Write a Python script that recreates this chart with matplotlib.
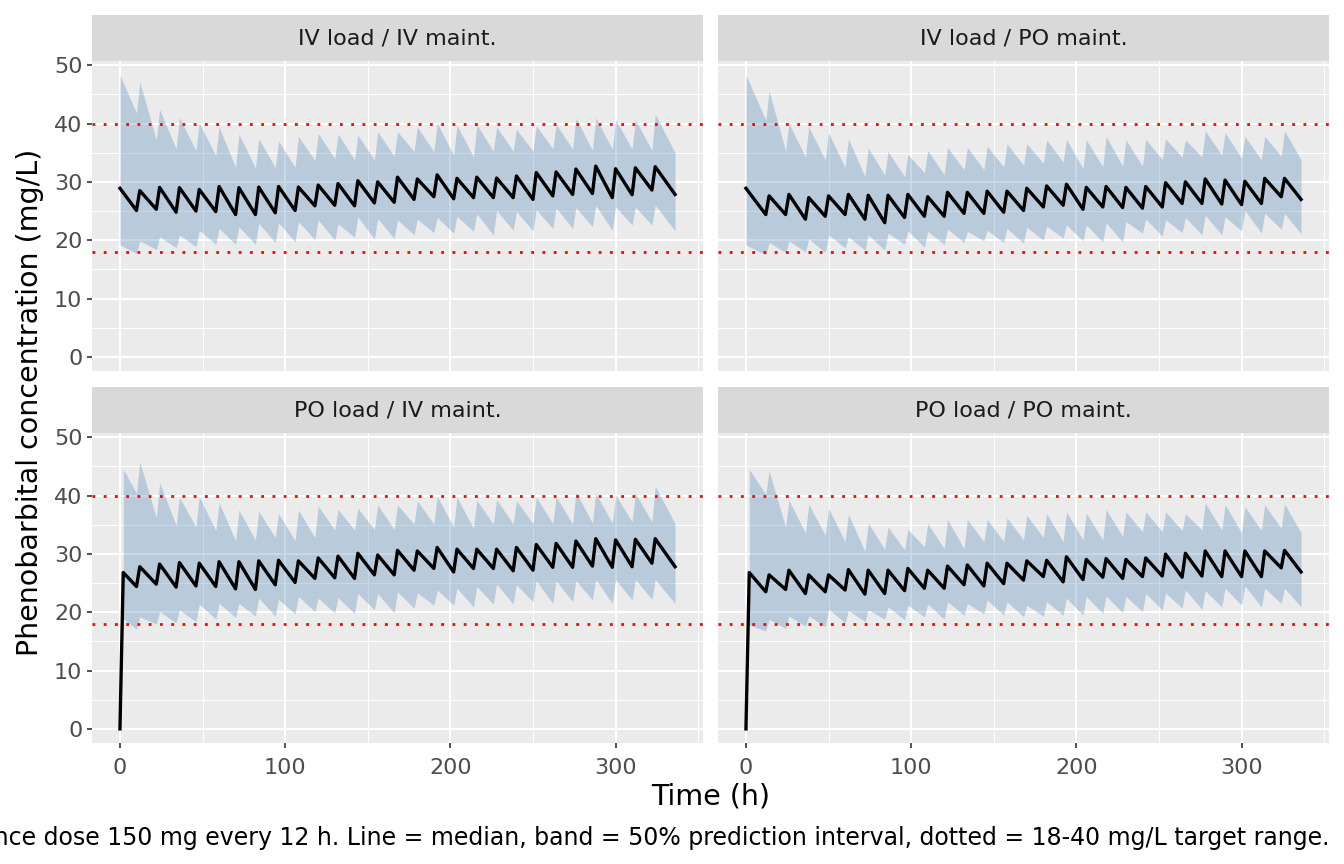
import numpy as np
import matplotlib
matplotlib.use("Agg")
import matplotlib.pyplot as plt

# ---------------- data (mg/L) ----------------
panels = ["IV load / IV maint.", "IV load / PO maint.", "PO load / IV maint.", "PO load / PO maint."]
target_low, target_high = 18, 40
x_ticks = [0, 100, 200, 300]
y_ticks = [0, 10, 20, 30, 40, 50]

# IV load / IV maint.: value right after each dose (peak) and the last sample before next dose (trough)
ivv_med_peak = [28.9, 28.5, 29.05, 29.0, 28.7, 29.2, 29.0, 29.1, 29.2, 29.1, 29.45, 29.7, 30.2, 30.0,
                30.8, 30.5, 31.2, 30.6, 30.8, 30.65, 31.0, 31.6, 31.7, 32.2, 32.7, 32.25, 32.4, 32.6]
ivv_med_trough = [25.1, 25.3, 24.8, 25.0, 24.9, 24.4, 24.4, 24.7, 25.1, 25.9, 26.0, 25.9, 26.4, 26.5,
                  27.0, 27.45, 27.1, 27.3, 27.3, 27.3, 27.0, 27.6, 27.85, 28.0, 27.3, 27.8, 28.6, 27.85]
ivv_hi_peak = [48.3, 47.1, 42.4, 41.0, 40.1, 39.4, 38.2, 37.4, 37.0, 37.8, 38.3, 38.2, 38.0, 38.6,
               38.6, 39.4, 40.1, 39.7, 39.8, 39.4, 39.0, 39.6, 39.9, 40.9, 41.0, 40.7, 40.6, 41.6]
ivv_hi_trough = [41.8, 37.2, 35.7, 35.4, 34.5, 32.5, 32.4, 32.5, 32.5, 33.7, 34.0, 33.8, 33.8, 34.4,
                 35.2, 35.2, 34.6, 34.3, 35.3, 35.3, 35.3, 35.7, 35.6, 35.4, 35.6, 35.6, 35.4, 35.0]
ivv_lo_peak = [19.2, 19.9, 20.6, 20.9, 21.7, 22.0, 22.3, 22.9, 23.0, 23.2, 23.5, 22.8, 24.0, 23.7,
               23.5, 23.6, 23.9, 24.1, 24.5, 25.1, 24.9, 25.2, 25.5, 25.6, 26.0, 25.7, 25.7, 26.0]
ivv_lo_trough = [17.75, 18.4, 18.7, 18.9, 19.3, 19.3, 19.3, 19.6, 19.7, 20.1, 20.0, 20.5, 20.2, 20.3,
                 20.9, 21.3, 21.2, 21.5, 20.9, 21.7, 21.6, 22.0, 22.0, 22.3, 21.7, 22.6, 22.6, 21.6]

# IV load / PO maint.: start value, trough at each oral dose, peak 2 h later, final value
ivp_start = {"med": 28.9, "hi": 48.3, "lo": 19.2}
ivp_end = {"med": 27.0, "hi": 33.8, "lo": 21.1}
ivp_med_trough = [24.4, 24.4, 23.6, 24.1, 24.4, 23.6, 23.0, 23.9, 24.1, 24.1, 24.6, 24.6, 24.8, 25.1,
                  25.7, 26.0, 25.3, 25.7, 25.6, 25.5, 25.7, 26.3, 26.3, 26.2, 26.1, 26.3, 27.45]
ivp_med_peak = [27.6, 27.85, 27.3, 27.6, 27.85, 27.7, 27.7, 27.85, 27.45, 28.2, 28.2, 28.4, 28.4, 28.9,
                29.3, 29.6, 29.05, 29.2, 29.05, 29.2, 29.85, 30.0, 30.5, 30.3, 30.1, 30.6, 30.6]
ivp_hi_trough = [40.6, 35.3, 34.3, 33.8, 32.5, 30.9, 31.2, 30.9, 31.6, 31.2, 32.1, 32.1, 32.6, 32.9,
                 33.2, 33.4, 32.3, 32.6, 32.7, 32.7, 33.8, 34.2, 34.3, 34.6, 34.1, 33.8, 34.4]
ivp_hi_peak = [45.6, 40.0, 39.4, 38.4, 37.4, 35.8, 35.2, 34.7, 35.4, 35.9, 35.9, 36.1, 36.5, 36.5,
               37.2, 37.3, 37.2, 37.8, 37.2, 37.3, 37.4, 37.2, 38.75, 38.4, 37.8, 37.8, 38.75]
ivp_lo_trough = [17.5, 17.9, 18.0, 17.9, 18.7, 18.3, 18.3, 19.3, 18.8, 19.3, 19.6, 19.9, 19.6, 19.5,
                 20.0, 20.4, 19.9, 19.7, 19.7, 21.2, 20.7, 21.3, 20.9, 20.9, 21.6, 21.2, 21.9]
ivp_lo_peak = [19.6, 19.9, 20.2, 20.9, 20.6, 20.9, 21.2, 21.6, 21.5, 21.9, 21.5, 21.7, 22.0, 22.2,
               22.4, 22.6, 22.6, 23.0, 23.2, 23.6, 23.5, 23.9, 24.3, 24.0, 25.1, 24.6, 24.6]

# PO load / IV maint.
poi_med_peak = [26.8, 27.8, 28.25, 28.5, 28.4, 28.65, 28.65, 28.8, 28.9, 28.8, 29.3, 29.6, 30.1, 29.8,
                30.6, 30.5, 31.1, 30.8, 30.8, 30.8, 31.1, 31.6, 31.8, 32.2, 32.6, 32.4, 32.5, 32.6]
poi_med_trough = [24.4, 24.8, 24.3, 24.5, 24.4, 24.0, 23.9, 24.7, 25.1, 25.8, 25.9, 25.8, 26.4, 26.4,
                  27.2, 27.5, 26.9, 27.5, 27.5, 27.1, 27.2, 27.7, 27.7, 27.9, 27.7, 27.8, 28.4, 27.8]
poi_hi_peak = [44.5, 45.8, 42.2, 39.7, 39.8, 38.75, 37.5, 37.3, 36.9, 37.5, 38.2, 37.6, 37.8, 38.4,
               38.4, 39.1, 39.9, 39.7, 39.2, 39.3, 39.1, 39.7, 39.8, 40.6, 40.4, 40.1, 40.4, 41.6]
poi_hi_trough = [40.4, 36.2, 34.9, 34.6, 34.0, 32.25, 32.4, 32.8, 32.25, 32.8, 34.1, 34.1, 34.2, 34.2,
                 35.1, 35.1, 34.6, 34.4, 35.1, 35.1, 35.2, 35.2, 35.1, 35.3, 35.3, 35.5, 35.5, 35.2]
poi_lo_peak = [18.9, 19.2, 20.1, 20.4, 21.4, 21.5, 21.5, 22.4, 22.2, 22.7, 22.4, 22.5, 23.2, 23.2,
               23.5, 23.3, 23.8, 24.1, 24.4, 24.8, 24.7, 25.4, 25.4, 25.4, 25.6, 25.6, 25.6, 25.6]
poi_lo_trough = [17.1, 18.0, 18.2, 18.4, 18.8, 19.1, 19.35, 19.35, 19.7, 20.1, 19.9, 19.8, 20.4, 19.9,
                 20.7, 21.2, 21.2, 20.9, 21.4, 21.4, 21.8, 21.5, 21.8, 22.1, 21.5, 22.1, 22.2, 21.5]

# PO load / PO maint.
pop_start = {"med": 26.8, "hi": 44.5, "lo": 17.8}
pop_end = {"med": 26.9, "hi": 33.6, "lo": 20.9}
pop_med_trough = [23.5, 23.9, 23.2, 23.5, 23.8, 23.1, 23.2, 23.7, 24.1, 24.1, 24.7, 24.5, 24.9, 25.5,
                  26.1, 25.2, 25.6, 26.0, 25.8, 26.1, 26.2, 26.0, 26.2, 26.1, 26.1, 26.1, 27.6]
pop_med_peak = [26.4, 27.2, 26.4, 26.4, 27.3, 27.2, 27.2, 27.5, 27.2, 27.9, 28.1, 28.4, 28.4, 28.8,
                28.9, 29.5, 29.05, 29.2, 29.05, 29.3, 29.95, 30.1, 30.5, 30.5, 30.5, 30.5, 30.6]
pop_hi_trough = [40.2, 34.6, 33.6, 33.2, 32.1, 30.4, 30.8, 30.7, 31.2, 30.9, 30.9, 32.1, 32.1, 32.4,
                 32.8, 32.1, 32.4, 32.4, 33.0, 33.8, 33.8, 34.0, 34.1, 34.1, 33.6, 34.0, 34.4]
pop_hi_peak = [44.2, 39.2, 38.5, 37.8, 36.8, 35.3, 34.6, 34.2, 35.2, 35.9, 35.9, 35.9, 36.2, 36.6,
               36.9, 37.2, 37.0, 37.6, 37.2, 37.2, 37.2, 36.9, 38.75, 38.5, 38.1, 38.4, 38.6]
pop_lo_trough = [16.8, 17.2, 17.6, 17.5, 18.2, 18.4, 18.8, 18.7, 19.2, 18.8, 19.5, 19.7, 19.5, 19.2,
                 19.3, 19.5, 19.5, 19.8, 19.9, 20.1, 20.4, 20.7, 20.5, 20.9, 21.2, 20.9, 21.5]
pop_lo_peak = [18.8, 19.35, 19.35, 20.5, 20.3, 20.4, 20.9, 21.2, 21.4, 21.8, 21.5, 22.1, 21.8, 21.2,
               21.8, 22.4, 22.7, 22.8, 22.7, 23.2, 23.3, 23.8, 23.7, 24.1, 24.5, 24.1, 24.1]

TAU = 12      # dosing interval (h)
T_END = 336   # end of simulation (h)


def iv_maint_series(first_t, peaks, troughs):
    t, v = [], []
    n = len(peaks)
    for k in range(n):
        t.append(first_t if k == 0 else TAU * k)
        v.append(peaks[k])
        t.append(TAU * k + 10 if k < n - 1 else T_END)
        v.append(troughs[k])
    return np.array(t, float), np.array(v, float)


def po_maint_series(first_t, start, troughs, peaks, end):
    t, v = [first_t], [start]
    for k in range(1, len(troughs) + 1):
        t += [TAU * k, TAU * k + 2]
        v += [troughs[k - 1], peaks[k - 1]]
    t.append(T_END)
    v.append(end)
    return np.array(t, float), np.array(v, float)


series = []
t1, m1 = iv_maint_series(0, ivv_med_peak, ivv_med_trough)
_, h1 = iv_maint_series(0, ivv_hi_peak, ivv_hi_trough)
_, l1 = iv_maint_series(0, ivv_lo_peak, ivv_lo_trough)
series.append((t1, m1, t1, l1, h1))
t2, m2 = po_maint_series(0, ivp_start["med"], ivp_med_trough, ivp_med_peak, ivp_end["med"])
_, h2 = po_maint_series(0, ivp_start["hi"], ivp_hi_trough, ivp_hi_peak, ivp_end["hi"])
_, l2 = po_maint_series(0, ivp_start["lo"], ivp_lo_trough, ivp_lo_peak, ivp_end["lo"])
series.append((t2, m2, t2, l2, h2))
t3, m3 = iv_maint_series(2, poi_med_peak, poi_med_trough)
_, h3 = iv_maint_series(2, poi_hi_peak, poi_hi_trough)
_, l3 = iv_maint_series(2, poi_lo_peak, poi_lo_trough)
series.append((np.r_[0, t3], np.r_[0, m3], t3, l3, h3))
t4, m4 = po_maint_series(2, pop_start["med"], pop_med_trough, pop_med_peak, pop_end["med"])
_, h4 = po_maint_series(2, pop_start["hi"], pop_hi_trough, pop_hi_peak, pop_end["hi"])
_, l4 = po_maint_series(2, pop_start["lo"], pop_lo_trough, pop_lo_peak, pop_end["lo"])
series.append((np.r_[0, t4], np.r_[0, m4], t4, l4, h4))

# ---------------- figure ----------------
W, H = 1344, 864
fig = plt.figure(figsize=(W / 100, H / 100), dpi=100)
fig.patch.set_facecolor("white")


def rect(l, t, r, b):
    return [l / W, 1 - b / H, (r - l) / W, (b - t) / H]


cols = [(92.2, 702.8), (718.2, 1328.8)]
rows = [(61, 371), (433, 743)]
strip_h = 46

xmin, xmax = 0, T_END
xpad = 0.05 * (xmax - xmin)
ymin, ymax = 0, 48.3
ypad = 0.05 * (ymax - ymin)

TICK_FS = 16
for i, name in enumerate(panels):
    r, c = divmod(i, 2)
    l, rr = cols[c]
    t, b = rows[r]
    ax = fig.add_axes(rect(l, t, rr, b))
    ax.set_facecolor("#EBEBEB")
    for s in ax.spines.values():
        s.set_visible(False)
    ax.set_xlim(xmin - xpad, xmax + xpad)
    ax.set_ylim(ymin - ypad, ymax + ypad)
    ax.set_xticks(x_ticks)
    ax.set_xticks([50, 150, 250, 350], minor=True)
    ax.set_yticks(y_ticks)
    ax.set_yticks([5, 15, 25, 35, 45], minor=True)
    ax.grid(True, which="major", color="white", lw=1.5)
    ax.grid(True, which="minor", color="white", lw=0.75)
    ax.set_axisbelow(True)
    ax.tick_params(which="minor", length=0)
    ax.tick_params(which="major", length=3.6, width=1.2, color="#333333",
                   labelsize=TICK_FS, labelcolor="#4D4D4D")
    ax.tick_params(axis="y", pad=3.5)
    ax.tick_params(axis="x", pad=7.5)
    if c == 1:
        ax.tick_params(axis="y", which="major", length=0, labelleft=False)
    if r == 0:
        ax.tick_params(axis="x", which="major", length=0, labelbottom=False)

    tl, ml, tb, lo, hi = series[i]
    ax.fill_between(tb, lo, hi, color="#4682B4", alpha=0.3, lw=0, zorder=2)
    ax.axhline(target_low, color="red", lw=2.0, ls=(0, (1, 3.05)), zorder=3)
    ax.axhline(target_high, color="red", lw=2.0, ls=(0, (1, 3.05)), zorder=3)
    ax.plot(tl, ml, color="black", lw=2.4, zorder=4, solid_joinstyle="round")

    sax = fig.add_axes(rect(l, t - strip_h, rr, t))
    sax.set_facecolor("#D9D9D9")
    sax.set_xticks([])
    sax.set_yticks([])
    for s in sax.spines.values():
        s.set_visible(False)
    sax.text(0.5, 0.5, name, ha="center", va="center", fontsize=TICK_FS, color="#1A1A1A",
             transform=sax.transAxes)

fig.text((92.2 + 1328.8) / 2 / W, 1 - 797 / H, "Time (h)", ha="center", va="center", fontsize=20.5)
fig.text(30 / W, 1 - 402 / H, "Phenobarbital concentration (mg/L)", ha="center", va="center",
         rotation=90, fontsize=20.5)
# caption is right-aligned and, as in the original, runs past the left edge of the figure
fig.text(1329 / W, 1 - 838 / H,
         "Maintenance dose 150 mg every 12 h. Line = median, band = 50% prediction interval, "
         "dotted = 18-40 mg/L target range.",
         ha="right", va="center", fontsize=17.0, color="black")

fig.savefig("out.png", dpi=100)
